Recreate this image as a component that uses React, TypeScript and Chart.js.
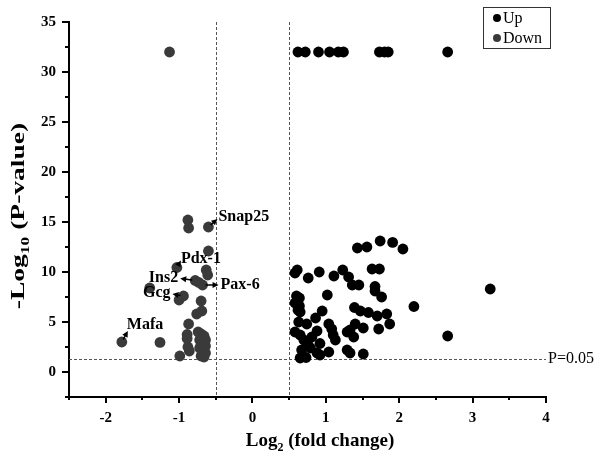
import React, { useEffect, useRef } from 'react';
import { Chart, registerables } from 'chart.js';

Chart.register(...registerables);

// ---- data ----
const upX = [
  0.62, 0.72, 0.9, 1.05, 1.17, 1.24, 1.73, 1.8, 1.85, 2.66,
  1.74, 1.91, 2.05, 1.43, 1.56,
  0.61, 0.58, 0.76, 0.91, 1.11, 1.23, 1.31, 1.63, 1.73,
  1.36, 1.45, 1.67, 1.67, 1.76, 2.2, 1.02,
  0.6, 0.64, 0.58, 0.64, 0.62, 0.65,
  0.95, 0.86, 1.39, 1.47, 1.58, 1.7, 1.83, 1.87, 1.72, 1.51,
  1.4, 1.33, 1.29, 1.38, 1.04, 1.08, 1.1, 1.13,
  0.63, 0.74, 0.58, 0.65, 0.88, 0.81, 0.7, 0.76, 0.92, 0.79, 0.88, 0.65, 0.73, 0.92, 1.04,
  1.29, 1.33, 1.51, 0.67,
  3.24, 2.66,
];
const upY = [
  32, 32, 32, 32, 32, 32, 32, 32, 32, 32,
  13.1, 12.96, 12.3, 12.4, 12.5,
  10.2, 9.9, 9.4, 10.0, 9.6, 10.2, 9.5, 10.3, 10.3,
  8.7, 8.7, 8.55, 8.1, 7.5, 6.55, 7.7,
  7.6, 7.4, 6.9, 6.6, 6.2, 6.0,
  6.1, 5.4, 6.45, 6.1, 5.95, 5.6, 5.8, 4.8, 4.3, 4.4,
  4.8, 4.2, 4.0, 3.5, 4.8, 4.3, 3.7, 3.2,
  5.0, 4.8, 4.0, 3.7, 4.1, 3.5, 3.2, 2.7, 2.85, 2.4, 1.9, 1.4, 1.45, 1.7, 2.0,
  2.2, 1.9, 1.8, 2.2,
  8.3, 3.6,
];
const downX = [
  -1.13,
  -0.88, -0.87, -0.6, -0.6, -1.03, -0.63, -0.61, -0.78, -0.73, -0.68,
  -1.4, -0.94, -1.0, -0.7, -0.69, -0.76, -0.87, -1.78, -1.26,
  -0.89, -0.89, -0.88, -0.99, -0.86,
  -0.74, -0.7, -0.66, -0.64, -0.72, -0.68, -0.64, -0.72, -0.68, -0.64, -0.7, -0.66,
];
const downY = [
  32,
  15.2, 14.4, 14.5, 12.1, 10.45, 10.2, 9.7, 9.15, 8.95, 8.7,
  8.4, 7.6, 7.2, 7.1, 6.1, 5.8, 4.8, 3.0, 2.96,
  3.75, 3.35, 2.5, 1.6, 2.1,
  4.0, 3.8, 3.6, 3.2, 3.2, 2.9, 2.6, 2.4, 2.1, 1.9, 1.6, 1.5,
];

const xTicks = [-2.5, -2, -1.5, -1, -0.5, 0, 0.5, 1, 1.5, 2, 2.5, 3, 3.5, 4];
const xTickLabels = ['-2', '-1', '0', '1', '2', '3', '4'];
const yTicks = [-2.5, 0, 2.5, 5, 7.5, 10, 12.5, 15, 17.5, 20, 22.5, 25, 27.5, 30, 32.5, 35];
const yTickLabels = ['0', '5', '10', '15', '20', '25', '30', '35'];

const foldCutoffs = [-0.5, 0.5];
const pCutoff = 1.3;
const pCutoffLabel = 'P=0.05';

const geneLabels = ['Snap25', 'Pdx-1', 'Ins2', 'Pax-6', 'Gcg', 'Mafa'];
const geneX = [-0.6, -1.03, -0.78, -0.68, -0.94, -1.78];
const geneY = [14.5, 10.45, 9.15, 8.7, 7.6, 3.0];

const seriesNames = ['Up', 'Down'];

// ---- styling ----
const SERIF = "'Liberation Serif', 'Times New Roman', serif";
const UP_COLOR = '#000000';
const DOWN_COLOR = '#3a3a3a';
const geneStyle = [
  { ax: 9, ay: -8, tx: 10, ty: -10, align: 'left' },
  { ax: 4, ay: -7, tx: 4, ty: -9, align: 'left' },
  { ax: -15, ay: -2, tx: -17, ty: -3, align: 'right' },
  { ax: 16, ay: 0, tx: 18, ty: 0, align: 'left' },
  { ax: -11, ay: -2, tx: -13, ty: -3, align: 'right' },
  { ax: 6, ay: -11, tx: 5, ty: -17, align: 'left' },
];

function drawTextWithSub(ctx: CanvasRenderingContext2D, parts: [string, boolean][], x: number, y: number, size: number) {
  let total = 0;
  const widths: number[] = [];
  for (const [t, sub] of parts) {
    ctx.font = `bold ${sub ? Math.round(size * 0.62) : size}px ${SERIF}`;
    const w = ctx.measureText(t).width;
    widths.push(w);
    total += w;
  }
  let cx = x - total / 2;
  parts.forEach(([t, sub], i) => {
    ctx.font = `bold ${sub ? Math.round(size * 0.62) : size}px ${SERIF}`;
    ctx.fillText(t, cx, sub ? y + size * 0.25 : y);
    cx += widths[i];
  });
}

const overlayPlugin = {
  id: 'overlay',
  beforeDatasetsDraw(chart: any) {
    const { ctx, chartArea: a, scales } = chart;
    const xs = scales.x, ys = scales.y;
    ctx.save();
    ctx.strokeStyle = '#555';
    ctx.lineWidth = 1;
    ctx.setLineDash([3, 2]);
    for (const v of foldCutoffs) {
      const px = Math.round(xs.getPixelForValue(v)) + 0.5;
      ctx.beginPath();
      ctx.moveTo(px, a.top);
      ctx.lineTo(px, a.bottom);
      ctx.stroke();
    }
    const py = Math.round(ys.getPixelForValue(pCutoff)) + 0.5;
    ctx.beginPath();
    ctx.moveTo(a.left, py);
    ctx.lineTo(a.right, py);
    ctx.stroke();
    ctx.restore();
  },
  afterDraw(chart: any) {
    const { ctx, chartArea: a, scales } = chart;
    const xs = scales.x, ys = scales.y;
    ctx.save();
    ctx.strokeStyle = '#000';
    ctx.lineWidth = 2;
    for (const v of xTicks) {
      const px = Math.round(xs.getPixelForValue(v));
      const len = xTickLabels.includes(String(v)) ? 6 : 3;
      ctx.beginPath();
      ctx.moveTo(px, a.bottom);
      ctx.lineTo(px, a.bottom + len);
      ctx.stroke();
    }
    for (const v of yTicks) {
      const py = Math.round(ys.getPixelForValue(v));
      const len = yTickLabels.includes(String(v)) ? 7 : 4;
      ctx.beginPath();
      ctx.moveTo(a.left, py);
      ctx.lineTo(a.left - len, py);
      ctx.stroke();
    }

    ctx.fillStyle = '#000';
    ctx.font = `16px ${SERIF}`;
    ctx.textAlign = 'left';
    ctx.textBaseline = 'middle';
    ctx.fillText(pCutoffLabel, a.right + 2, ys.getPixelForValue(pCutoff));

    geneLabels.forEach((g, i) => {
      const st = geneStyle[i];
      const px = xs.getPixelForValue(geneX[i]);
      const py = ys.getPixelForValue(geneY[i]);
      const ex = px + st.ax, ey = py + st.ay;
      const dx = ex - px, dy = ey - py;
      const d = Math.hypot(dx, dy) || 1;
      const ux = dx / d, uy = dy / d;
      const sx = px + ux * 3, sy = py + uy * 3;
      ctx.strokeStyle = '#000';
      ctx.lineWidth = 1.5;
      ctx.beginPath();
      ctx.moveTo(sx, sy);
      ctx.lineTo(ex - ux * 4, ey - uy * 4);
      ctx.stroke();
      const hl = 6, hw = 3;
      ctx.beginPath();
      ctx.moveTo(ex, ey);
      ctx.lineTo(ex - ux * hl - uy * hw, ey - uy * hl + ux * hw);
      ctx.lineTo(ex - ux * hl + uy * hw, ey - uy * hl - ux * hw);
      ctx.closePath();
      ctx.fillStyle = '#000';
      ctx.fill();
      ctx.font = `bold 16px ${SERIF}`;
      ctx.textAlign = st.align as CanvasTextAlign;
      ctx.textBaseline = 'middle';
      ctx.fillText(g, px + st.tx, py + st.ty);
    });

    ctx.fillStyle = '#000';
    ctx.textAlign = 'left';
    ctx.textBaseline = 'alphabetic';
    drawTextWithSub(ctx, [['Log', false], ['2', true], [' (fold change)', false]], 320, 446, 19);
    ctx.save();
    ctx.translate(24, 216);
    ctx.rotate(-Math.PI / 2);
    ctx.scale(1.45, 1);
    drawTextWithSub(ctx, [['-Log', false], ['10', true], [' (P-value)', false]], 0, 0, 19);
    ctx.restore();

    const lx = 483, ly = 7, lw = 67, lh = 41;
    ctx.strokeStyle = '#333';
    ctx.lineWidth = 1;
    ctx.strokeRect(lx + 0.5, ly + 0.5, lw, lh);
    const colors = [UP_COLOR, DOWN_COLOR];
    seriesNames.forEach((n, i) => {
      const cy = ly + 11 + i * 20;
      ctx.beginPath();
      ctx.arc(lx + 14, cy, 4, 0, Math.PI * 2);
      ctx.fillStyle = colors[i];
      ctx.fill();
      ctx.fillStyle = '#000';
      ctx.font = `16px ${SERIF}`;
      ctx.textAlign = 'left';
      ctx.textBaseline = 'middle';
      ctx.fillText(n, lx + 20, cy + 1);
    });
    ctx.restore();
  },
};

export default function App() {
  const ref = useRef<HTMLCanvasElement>(null);
  useEffect(() => {
    document.body.style.margin = '0';
    const up = upX.map((x, i) => ({ x, y: upY[i] }));
    const down = downX.map((x, i) => ({ x, y: downY[i] }));
    const chart = new Chart(ref.current!, {
      type: 'scatter',
      data: {
        datasets: [
          { label: seriesNames[0], data: up, backgroundColor: UP_COLOR, borderWidth: 0, pointRadius: 5.4 },
          { label: seriesNames[1], data: down, backgroundColor: DOWN_COLOR, borderWidth: 0, pointRadius: 5.4 },
        ],
      },
      options: {
        responsive: false,
        animation: false,
        events: [],
        layout: { padding: { top: 13, right: 56, left: 0, bottom: 0 } },
        plugins: { legend: { display: false }, tooltip: { enabled: false } },
        scales: {
          x: {
            type: 'linear',
            min: -2.5,
            max: 4,
            afterBuildTicks: (s: any) => { s.ticks = xTicks.map((v) => ({ value: v })); },
            afterFit: (s: any) => { s.height = 62; },
            grid: { display: true, drawOnChartArea: false, drawTicks: false },
            border: { display: true, color: '#000', width: 2 },
            ticks: {
              autoSkip: false,
              maxRotation: 0,
              padding: 12,
              color: '#000',
              font: { family: SERIF, size: 15, weight: 'bold' },
              callback: (v: any) => (xTickLabels.includes(String(v)) ? String(v) : ''),
            },
          },
          y: {
            type: 'linear',
            min: -2.5,
            max: 35,
            afterBuildTicks: (s: any) => { s.ticks = yTicks.map((v) => ({ value: v })); },
            afterFit: (s: any) => { s.width = 69; },
            grid: { display: true, drawOnChartArea: false, drawTicks: false },
            border: { display: true, color: '#000', width: 2 },
            ticks: {
              autoSkip: false,
              padding: 13,
              color: '#000',
              font: { family: SERIF, size: 15, weight: 'bold' },
              callback: (v: any) => (yTickLabels.includes(String(v)) ? String(v) : ''),
            },
          },
        },
      },
      plugins: [overlayPlugin],
    });
    return () => chart.destroy();
  }, []);
  return <canvas ref={ref} width={602} height={459} style={{ display: 'block' }} />;
}
